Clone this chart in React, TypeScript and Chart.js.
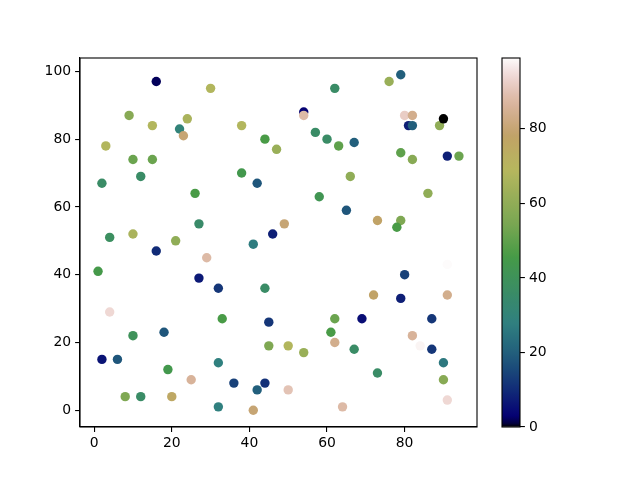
import React, { useEffect, useRef } from "react";
import { Chart, registerables } from "chart.js";

Chart.register(...registerables);

const xs = [16, 30, 9, 15, 24, 22, 23, 3, 10, 15, 12, 2, 26, 27, 4, 10, 21, 16, 29, 1, 27, 32, 4, 10, 18, 2, 6, 19, 25, 8, 12, 20, 32, 32,
  62, 54, 54, 38, 44, 47, 57, 60, 63, 38, 42, 58, 65, 49, 46, 41, 66, 67,
  44, 33, 45, 62, 61, 62, 45, 50, 54, 36, 44, 42, 50, 41, 64,
  79, 76, 80, 82, 81, 82, 89, 90, 79, 82, 91, 94, 86, 73, 79, 78,
  91, 80, 72, 79, 91, 69, 87, 82, 84, 87, 67, 90, 73, 90, 91];
const ys = [97, 95, 87, 84, 86, 83, 81, 78, 74, 74, 69, 67, 64, 55, 51, 52, 50, 47, 45, 41, 39, 36, 29, 22, 23, 15, 15, 12, 9, 4, 4, 4, 14, 1,
  95, 88, 87, 84, 80, 77, 82, 80, 78, 70, 67, 63, 59, 55, 52, 49, 69, 79,
  36, 27, 26, 27, 23, 20, 19, 19, 17, 8, 8, 6, 6, 0, 1,
  99, 97, 87, 87, 84, 84, 84, 86, 76, 74, 75, 75, 64, 56, 56, 54,
  43, 40, 34, 33, 34, 27, 27, 22, 19, 18, 18, 14, 11, 9, 3];
const cs = [2, 68, 58, 68, 66, 30, 80, 68, 52, 52, 36, 36, 46, 35, 38, 66, 60, 10, 88, 45, 7, 12, 94, 40, 18, 6, 18, 44, 86, 56, 36, 76, 28, 28,
  36, 3, 88, 68, 46, 62, 36, 36, 50, 44, 18, 42, 18, 80, 8, 27, 60, 20,
  36, 46, 12, 52, 46, 84, 56, 68, 62, 14, 11, 20, 90, 80, 88,
  20, 62, 92, 84, 8, 20, 60, 0, 50, 58, 8, 52, 60, 78, 56, 46,
  99, 14, 78, 8, 84, 5, 12, 86, 98, 12, 36, 26, 36, 58, 94];

const xTicks = [0, 20, 40, 60, 80];
const yTicks = [0, 20, 40, 60, 80, 100];
const cTicks = [0, 20, 40, 60, 80];
const cMin = 0;
const cMax = 99;

type Seg = [number, number][];
const RED: Seg = [[0, 0], [0.2824, 0.1882], [0.4588, 0.2714], [0.549, 0.4719], [0.698, 0.7176], [0.7882, 0.7553], [1, 0.9922]];
const GREEN: Seg = [[0, 0], [0.0275, 0], [0.1098, 0.1893], [0.1647, 0.3035], [0.2078, 0.3841], [0.2824, 0.502], [0.5216, 0.6397],
  [0.698, 0.7171], [0.7882, 0.6392], [0.7922, 0.6413], [0.8, 0.6447], [0.8078, 0.6481], [0.8157, 0.6549], [0.8667, 0.6991],
  [0.8745, 0.7103], [0.8824, 0.7216], [0.8902, 0.7323], [0.898, 0.743], [0.9412, 0.8275], [0.9569, 0.8635], [0.9647, 0.8816],
  [0.9961, 0.9733], [1, 0.9843]];
const BLUE: Seg = [[0, 0], [0.0039, 0.1684], [0.0078, 0.2212], [0.0275, 0.4329], [0.0314, 0.4549], [0.2824, 0.5004], [0.4667, 0.2748],
  [0.5451, 0.3205], [0.7843, 0.3961], [0.8941, 0.6651], [1, 0.9843]];

function interp(seg: Seg, t: number) {
  for (let i = 1; i < seg.length; i++) {
    if (t <= seg[i][0]) {
      const [x0, y0] = seg[i - 1];
      const [x1, y1] = seg[i];
      const f = x1 === x0 ? 0 : (t - x0) / (x1 - x0);
      return y0 + f * (y1 - y0);
    }
  }
  return seg[seg.length - 1][1];
}

function cmap(v: number) {
  const t = Math.min(1, Math.max(0, (v - cMin) / (cMax - cMin)));
  const r = Math.round(interp(RED, t) * 255);
  const g = Math.round(interp(GREEN, t) * 255);
  const b = Math.round(interp(BLUE, t) * 255);
  return `rgb(${r},${g},${b})`;
}

const FONT = { family: "DejaVu Sans", size: 13.9 };

const framePlugin = {
  id: "frame",
  afterDraw(chart: any) {
    const { ctx, chartArea } = chart;
    ctx.save();
    ctx.strokeStyle = "#000";
    ctx.lineWidth = 1.1;
    ctx.strokeRect(chartArea.left, chartArea.top, chartArea.right - chartArea.left, chartArea.bottom - chartArea.top);
    ctx.restore();
  },
};

export default function App() {
  const mainRef = useRef<HTMLCanvasElement>(null);
  const barRef = useRef<HTMLCanvasElement>(null);

  useEffect(() => {
    const points = xs.map((x, i) => ({ x, y: ys[i] }));
    const colors = cs.map((c) => cmap(c));
    const main = new Chart(mainRef.current!, {
      type: "scatter",
      data: {
        datasets: [
          {
            data: points,
            backgroundColor: colors,
            borderWidth: 0,
            pointRadius: 4.7,
            pointHoverRadius: 4.7,
          },
        ],
      },
      options: {
        animation: false,
        responsive: false,
        events: [],
        layout: { padding: { left: 0, top: 58, right: 163, bottom: 0 } },
        plugins: { legend: { display: false }, tooltip: { enabled: false } },
        scales: {
          x: {
            type: "linear",
            min: -3.65,
            max: 98.65,
            afterBuildTicks: (s: any) => { s.ticks = xTicks.map((v) => ({ value: v })); },
            afterFit: (s: any) => { s.height = 53; },
            grid: { drawOnChartArea: false, drawTicks: true, tickLength: 4.9, color: "#000", lineWidth: 1.1 },
            border: { display: true, color: "#000", width: 1.1 },
            ticks: { color: "#000", font: FONT, padding: 3, maxRotation: 0 },
          },
          y: {
            type: "linear",
            min: -4.95,
            max: 103.95,
            afterBuildTicks: (s: any) => { s.ticks = yTicks.map((v) => ({ value: v })); },
            afterFit: (s: any) => { s.width = 80; },
            grid: { drawOnChartArea: false, drawTicks: true, tickLength: 4.9, color: "#000", lineWidth: 1.1 },
            border: { display: true, color: "#000", width: 1.1 },
            ticks: { color: "#000", font: FONT, padding: 4 },
          },
        },
      },
      plugins: [framePlugin],
    } as any);

    const bar = new Chart(barRef.current!, {
      type: "bar",
      data: {
        labels: ["c"],
        datasets: [
          {
            data: [[cMin, cMax]],
            backgroundColor: (ctx: any) => {
              const { chart } = ctx;
              const area = chart.chartArea;
              if (!area) return "#888";
              const g = chart.ctx.createLinearGradient(0, area.bottom, 0, area.top);
              const n = 100;
              for (let i = 0; i <= n; i++) {
                g.addColorStop(i / n, cmap(cMin + (i / n) * (cMax - cMin)));
              }
              return g;
            },
            borderWidth: 0,
            barPercentage: 1,
            categoryPercentage: 1,
          },
        ],
      },
      options: {
        animation: false,
        responsive: false,
        events: [],
        layout: { padding: { left: 502, top: 58, right: 0, bottom: 53 } },
        plugins: { legend: { display: false }, tooltip: { enabled: false } },
        scales: {
          x: { display: false },
          y: {
            position: "right",
            type: "linear",
            min: cMin,
            max: cMax,
            afterBuildTicks: (s: any) => { s.ticks = cTicks.map((v) => ({ value: v })); },
            afterFit: (s: any) => { s.width = 120; },
            grid: { drawOnChartArea: false, drawTicks: true, tickLength: 4.9, color: "#000", lineWidth: 1.1 },
            border: { display: false },
            ticks: { color: "#000", font: FONT, padding: 4 },
          },
        },
      },
      plugins: [framePlugin],
    } as any);

    return () => {
      main.destroy();
      bar.destroy();
    };
  }, []);

  return (
    <div style={{ position: "absolute", left: 0, top: 0, width: 640, height: 480, background: "#fff" }}>
      <canvas ref={mainRef} width={640} height={480} style={{ position: "absolute", left: 0, top: 0 }} />
      <canvas ref={barRef} width={640} height={480} style={{ position: "absolute", left: 0, top: 0 }} />
    </div>
  );
}
